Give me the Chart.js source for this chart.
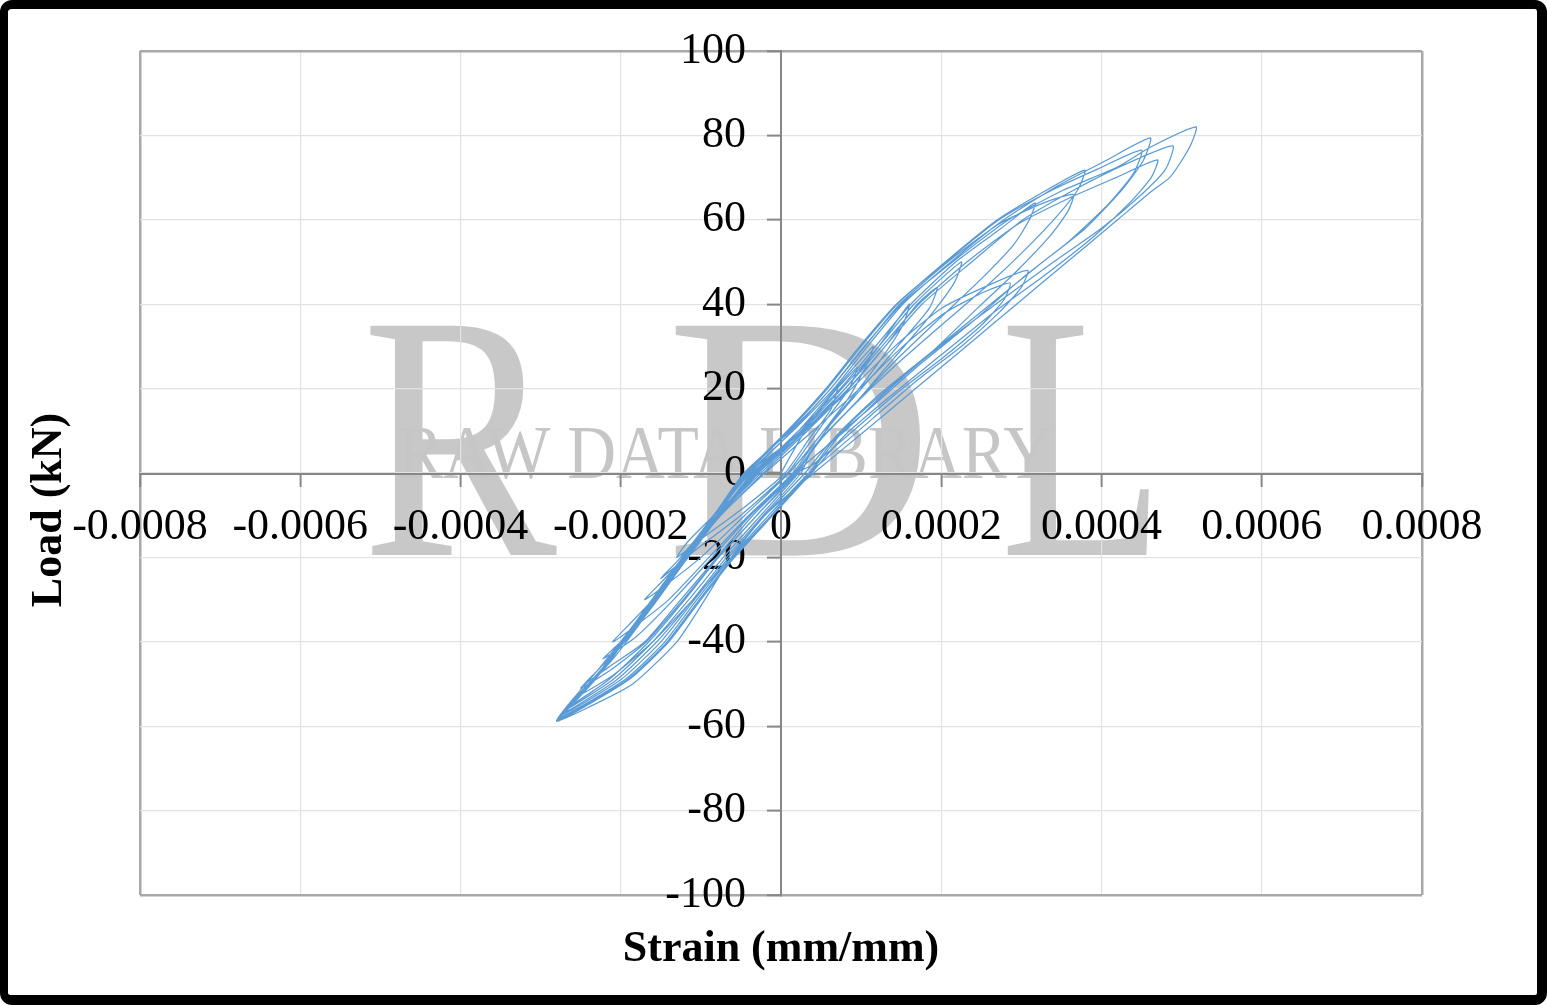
<!DOCTYPE html>
<html><head><meta charset="utf-8">
<script src="https://cdn.jsdelivr.net/npm/chart.js@4.4.1/dist/chart.umd.min.js"></script>
<style>
html,body{margin:0;padding:0;background:#fff;}
#wrap{position:relative;width:1547px;height:1005px;overflow:hidden;background:#fff;}
#frame{position:absolute;left:0;top:0;width:1547px;height:1005px;box-sizing:border-box;border-style:solid;border-color:#000;border-width:9px 10px 10px 8px;border-radius:12px;pointer-events:none;}
canvas{position:absolute;left:0;top:0;}
</style></head><body>
<div id="wrap"><canvas id="c" width="1547" height="1005"></canvas><div id="frame"></div></div>
<script>
// ---- axis ticks ----
const xTickValues = [-0.0008, -0.0006, -0.0004, -0.0002, 0, 0.0002, 0.0004, 0.0006, 0.0008];
const xTickLabels = ['-0.0008', '-0.0006', '-0.0004', '-0.0002', '0', '0.0002', '0.0004', '0.0006', '0.0008'];
const yTickValues = [-100, -80, -60, -40, -20, 0, 20, 40, 60, 80, 100];
const yTickLabels = ['-100', '-80', '-60', '-40', '-20', '0', '20', '40', '60', '80', '100'];
const xTitle = 'Strain (mm/mm)';
const yTitle = 'Load (kN)';
const watermarkLetters = ['R', 'D', 'L'];
const watermarkText = 'RAW DATA LIBRARY';

// ---- cyclic load path, [strain (mm/mm), load (kN)] ----
const cycle01 = [[0.00e-4,0],[0.30e-4,10],[0.70e-4,20],[0.62e-4,15],[0.35e-4,8],[0.05e-4,0],[-0.45e-4,-8],[-0.95e-4,-15],[-1.30e-4,-20],
  [-1.15e-4,-16],[-0.78e-4,-9],[-0.28e-4,0],[0.25e-4,10],[0.70e-4,20],[0.95e-4,25]];
const cycle02 = [[0.85e-4,20],[0.50e-4,11],[0.08e-4,0],[-0.50e-4,-10],[-1.05e-4,-18],[-1.50e-4,-25],
  [-1.30e-4,-21],[-0.90e-4,-12],[-0.30e-4,0],[0.22e-4,10],[0.68e-4,20],[1.15e-4,30]];
const cycle03 = [[1.08e-4,26],[0.85e-4,18],[0.45e-4,8],[0.10e-4,0],[-0.45e-4,-10],[-1.00e-4,-20],[-1.40e-4,-26],[-1.70e-4,-30],
  [-1.50e-4,-26],[-1.15e-4,-19],[-0.78e-4,-10],[-0.25e-4,0],[0.30e-4,10],[0.80e-4,20],[1.22e-4,30],[1.60e-4,40]];
const cycle04 = [[1.52e-4,35],[1.25e-4,27],[0.85e-4,17],[0.45e-4,8],[0.15e-4,0],[-0.40e-4,-10],[-0.90e-4,-20],[-1.40e-4,-30],[-1.80e-4,-36],[-2.10e-4,-40],
  [-1.90e-4,-36],[-1.55e-4,-29],[-1.18e-4,-20],[-0.75e-4,-10],[-0.22e-4,0],[0.33e-4,10],[0.85e-4,20],[1.30e-4,30],[1.70e-4,40],[1.95e-4,44]];
const cycle05 = [[1.85e-4,39],[1.50e-4,31],[1.05e-4,21],[0.60e-4,11],[0.17e-4,0],[-0.38e-4,-10],[-0.86e-4,-20],[-1.34e-4,-30],[-1.82e-4,-39],[-2.22e-4,-44],
  [-2.00e-4,-40],[-1.68e-4,-33],[-1.30e-4,-23],[-0.85e-4,-12],[-0.30e-4,0],[0.25e-4,10],[0.76e-4,20],[1.22e-4,30],[1.66e-4,40],[2.25e-4,50]];
const cycle06 = [[2.16e-4,45],[1.85e-4,37],[1.40e-4,27],[0.95e-4,17],[0.50e-4,8],[0.18e-4,0],[-0.35e-4,-10],[-0.80e-4,-20],[-1.25e-4,-30],[-1.70e-4,-40],[-2.15e-4,-46],[-2.45e-4,-50],
  [-2.25e-4,-46],[-1.92e-4,-39],[-1.55e-4,-30],[-1.18e-4,-20],[-0.75e-4,-10],[-0.20e-4,0],[0.40e-4,10],[0.98e-4,20],[1.52e-4,30],[2.05e-4,38],[2.55e-4,43],[2.86e-4,45]];
const cycle07 = [[2.78e-4,41],[2.50e-4,35],[2.00e-4,27],[1.45e-4,19],[0.90e-4,10],[0.40e-4,2],[0.20e-4,0],[-0.30e-4,-10],[-0.78e-4,-20],[-1.22e-4,-30],[-1.68e-4,-40],[-2.15e-4,-47],[-2.50e-4,-51],
  [-2.30e-4,-47],[-1.95e-4,-40],[-1.58e-4,-31],[-1.20e-4,-21],[-0.80e-4,-11],[-0.28e-4,0],[0.30e-4,10],[0.88e-4,20],[1.42e-4,30],[2.00e-4,39],[2.65e-4,45],[3.08e-4,48]];
const cycle08 = [[3.00e-4,44],[2.72e-4,38],[2.25e-4,30],[1.70e-4,22],[1.15e-4,13],[0.60e-4,4],[0.35e-4,0],[-0.15e-4,-10],[-0.62e-4,-20],[-1.10e-4,-30],[-1.60e-4,-40],[-2.10e-4,-48],[-2.55e-4,-53],
  [-2.38e-4,-50],[-2.05e-4,-43],[-1.66e-4,-33],[-1.26e-4,-22],[-0.84e-4,-11],[-0.32e-4,0],[0.22e-4,10],[0.74e-4,20],[1.18e-4,30],[1.62e-4,40],[2.18e-4,50],[2.75e-4,58],[3.17e-4,64]];
const cycle09 = [[3.10e-4,60],[2.90e-4,54],[2.50e-4,46],[2.00e-4,37],[1.45e-4,27],[0.95e-4,17],[0.45e-4,7],[0.20e-4,0],[-0.30e-4,-10],[-0.78e-4,-20],[-1.20e-4,-30],[-1.65e-4,-40],[-2.15e-4,-49],[-2.62e-4,-55],
  [-2.48e-4,-52],[-2.15e-4,-45],[-1.78e-4,-35],[-1.36e-4,-24],[-0.92e-4,-12],[-0.38e-4,0],[0.14e-4,10],[0.62e-4,20],[1.05e-4,30],[1.48e-4,40],[2.08e-4,50],[2.72e-4,59],[3.28e-4,64],[3.65e-4,66]];
const cycle10 = [[3.58e-4,62],[3.35e-4,56],[2.95e-4,48],[2.45e-4,39],[1.90e-4,29],[1.30e-4,19],[0.80e-4,10],[0.30e-4,2],[0.22e-4,0],[-0.25e-4,-10],[-0.72e-4,-20],[-1.15e-4,-30],[-1.60e-4,-40],[-2.10e-4,-49],[-2.68e-4,-56],
  [-2.55e-4,-53],[-2.22e-4,-46],[-1.84e-4,-36],[-1.42e-4,-25],[-0.96e-4,-13],[-0.42e-4,0],[0.10e-4,10],[0.58e-4,20],[1.00e-4,30],[1.45e-4,40],[2.05e-4,50],[2.70e-4,60],[3.22e-4,66],[3.79e-4,71.8]];
const cycle11 = [[3.70e-4,67],[3.45e-4,61],[3.05e-4,53],[2.55e-4,44],[2.00e-4,35],[1.40e-4,25],[0.85e-4,15],[0.40e-4,6],[0.25e-4,0],[-0.22e-4,-10],[-0.68e-4,-20],[-1.10e-4,-30],[-1.55e-4,-40],[-2.05e-4,-49],[-2.72e-4,-57],
  [-2.60e-4,-54],[-2.26e-4,-47],[-1.86e-4,-37],[-1.44e-4,-26],[-0.98e-4,-14],[-0.44e-4,0],[0.08e-4,10],[0.56e-4,20],[0.98e-4,30],[1.44e-4,40],[2.06e-4,50],[2.72e-4,60],[3.38e-4,67],[3.95e-4,72],[4.50e-4,76.5]];
const cycle12 = [[4.40e-4,71],[4.10e-4,64],[3.60e-4,55],[3.00e-4,46],[2.40e-4,36],[1.75e-4,26],[1.15e-4,16],[0.60e-4,7],[0.30e-4,0],[-0.20e-4,-10],[-0.65e-4,-20],[-1.08e-4,-30],[-1.50e-4,-40],[-2.00e-4,-49],[-2.74e-4,-57.5],
  [-2.62e-4,-55],[-2.28e-4,-48],[-1.88e-4,-38],[-1.46e-4,-27],[-1.00e-4,-15],[-0.40e-4,0],[0.15e-4,10],[0.66e-4,20],[1.08e-4,30],[1.52e-4,40],[2.12e-4,50],[2.78e-4,60],[3.45e-4,68],[4.05e-4,74],[4.61e-4,79.4]];
const cycle13 = [[4.52e-4,74],[4.25e-4,67],[3.80e-4,58],[3.20e-4,49],[2.55e-4,39],[1.90e-4,29],[1.25e-4,19],[0.70e-4,9],[0.35e-4,0],[-0.15e-4,-10],[-0.62e-4,-20],[-1.05e-4,-30],[-1.45e-4,-40],[-1.95e-4,-49],[-2.76e-4,-58],
  [-2.64e-4,-55],[-2.30e-4,-48],[-1.90e-4,-38],[-1.46e-4,-27],[-0.98e-4,-15],[-0.34e-4,0],[0.28e-4,10],[0.84e-4,20],[1.30e-4,30],[1.76e-4,40],[2.38e-4,50],[3.02e-4,60],[3.65e-4,67],[4.28e-4,73],[4.89e-4,77.5]];
const cycle14 = [[4.80e-4,72],[4.50e-4,66],[4.00e-4,58],[3.40e-4,50],[2.75e-4,41],[2.05e-4,31],[1.40e-4,21],[0.82e-4,11],[0.36e-4,0],[-0.12e-4,-10],[-0.60e-4,-20],[-1.02e-4,-30],[-1.42e-4,-40],[-1.92e-4,-49],[-2.78e-4,-58.5],
  [-2.66e-4,-56],[-2.32e-4,-49],[-1.92e-4,-39],[-1.48e-4,-28],[-1.00e-4,-16],[-0.36e-4,0],[0.26e-4,10],[0.80e-4,20],[1.26e-4,30],[1.72e-4,40],[2.32e-4,50],[2.96e-4,59],[3.58e-4,65],[4.18e-4,70],[4.70e-4,74.2]];
const cycle15 = [[4.62e-4,70],[4.35e-4,64],[3.90e-4,56],[3.30e-4,47],[2.65e-4,38],[2.00e-4,28],[1.35e-4,18],[0.80e-4,9],[0.38e-4,0],[-0.10e-4,-10],[-0.58e-4,-20],[-1.00e-4,-30],[-1.40e-4,-40],[-1.90e-4,-49],[-2.78e-4,-58.8],
  [-2.67e-4,-56],[-2.33e-4,-49],[-1.93e-4,-39],[-1.51e-4,-28],[-1.05e-4,-16],[-0.46e-4,0],[0.12e-4,10],[0.62e-4,20],[1.04e-4,30],[1.50e-4,40],[2.14e-4,50],[2.84e-4,60],[3.52e-4,67],[4.20e-4,72.5],[4.62e-4,77.3],[5.18e-4,82]];
const cycle16 = [[5.12e-4,78],[5.00e-4,74],[4.85e-4,70],[4.64e-4,67],[4.20e-4,60],[3.57e-4,50],[2.94e-4,40],[2.31e-4,30],[1.68e-4,20],[1.05e-4,10],[0.41e-4,0],[-0.20e-4,-10],[-0.62e-4,-20],[-0.95e-4,-30],[-1.30e-4,-40],[-1.85e-4,-50],[-2.40e-4,-55.5],[-2.80e-4,-58.8],
  [-2.66e-4,-55],[-2.30e-4,-47],[-1.88e-4,-37],[-1.46e-4,-26],[-1.00e-4,-14],[-0.40e-4,0],[0.00e-4,6]];

const cycles = [cycle01, cycle02, cycle03, cycle04, cycle05, cycle06, cycle07, cycle08,
                cycle09, cycle10, cycle11, cycle12, cycle13, cycle14, cycle15, cycle16];
const points = cycles.flat().map(p => ({x: p[0], y: p[1]}));

const serif = "'Liberation Serif', 'Times New Roman', serif";
const axisGray = '#878787';

const bgAndMark = {
  id: 'bgAndMark',
  beforeDraw(chart) {
    const ctx = chart.ctx;
    ctx.save();
    ctx.fillStyle = '#fff';
    ctx.fillRect(0, 0, chart.width, chart.height);
    const boxes = [[362, 195], [665, 270], [1000, 165]];
    ctx.fillStyle = '#c8c8c8';
    ctx.textBaseline = 'alphabetic';
    ctx.textAlign = 'left';
    ctx.font = '350px ' + serif;
    watermarkLetters.forEach((ch, i) => {
      const w = ctx.measureText(ch).width;
      ctx.save();
      ctx.translate(boxes[i][0], 555);
      ctx.scale(boxes[i][1] / w, 1);
      ctx.fillText(ch, 0, 0);
      ctx.restore();
    });
    ctx.fillStyle = '#c6c6c6';
    ctx.font = '76px ' + serif;
    const tw = ctx.measureText(watermarkText).width;
    ctx.save();
    ctx.translate(398, 478);
    ctx.scale(654 / tw, 1);
    ctx.fillText(watermarkText, 0, 0);
    ctx.restore();
    ctx.restore();
  },
  afterDraw(chart) {
    const ctx = chart.ctx;
    ctx.save();
    ctx.fillStyle = '#000';
    ctx.font = 'bold 44px ' + serif;
    ctx.textAlign = 'center';
    ctx.textBaseline = 'middle';
    ctx.fillText(xTitle, 781, 950);
    ctx.translate(50, 510);
    ctx.rotate(-Math.PI / 2);
    ctx.fillText(yTitle, 0, 0);
    ctx.restore();
  }
};

function gridColor(n) {
  return ctx => (ctx.index === 0 || ctx.index === n - 1) ? '#a8a8a8' : '#e2e2e2';
}
function gridWidth(n) {
  return ctx => (ctx.index === 0 || ctx.index === n - 1) ? 2.5 : 1.2;
}

new Chart(document.getElementById('c'), {
  type: 'scatter',
  data: {
    datasets: [{
      data: points,
      showLine: true,
      borderColor: '#5B9BD5',
      borderWidth: 1.25,
      pointRadius: 0,
      tension: 0.2,
      fill: false
    }]
  },
  options: {
    responsive: false,
    animation: false,
    devicePixelRatio: 1,
    layout: { padding: { left: 140, top: 51, right: 125, bottom: 110 } },
    plugins: { legend: { display: false }, tooltip: { enabled: false } },
    scales: {
      x: {
        type: 'linear',
        position: 'center',
        min: -0.0008, max: 0.0008,
        afterBuildTicks: s => { s.ticks = xTickValues.map(v => ({ value: v })); },
        ticks: {
          callback: (v, i) => xTickLabels[i],
          font: { family: serif, size: 44 },
          color: '#000',
          padding: 16,
          autoSkip: false,
          maxRotation: 0
        },
        grid: {
          color: gridColor(xTickValues.length),
          lineWidth: gridWidth(xTickValues.length),
          tickLength: 12,
          tickColor: axisGray,
          tickWidth: 2
        },
        border: { display: true, color: axisGray, width: 2 }
      },
      y: {
        type: 'linear',
        position: 'center',
        min: -100, max: 100,
        afterBuildTicks: s => { s.ticks = yTickValues.map(v => ({ value: v })); },
        ticks: {
          // trailing spaces keep the gap between label and tick mark
          callback: (v, i) => yTickLabels[i] + '  ',
          font: { family: serif, size: 44 },
          color: '#000',
          padding: 0,
          autoSkip: false
        },
        grid: {
          color: gridColor(yTickValues.length),
          lineWidth: gridWidth(yTickValues.length),
          tickLength: 13,
          tickColor: axisGray,
          tickWidth: 2
        },
        border: { display: true, color: axisGray, width: 2 }
      }
    }
  },
  plugins: [bgAndMark]
});
</script>
</body></html>
